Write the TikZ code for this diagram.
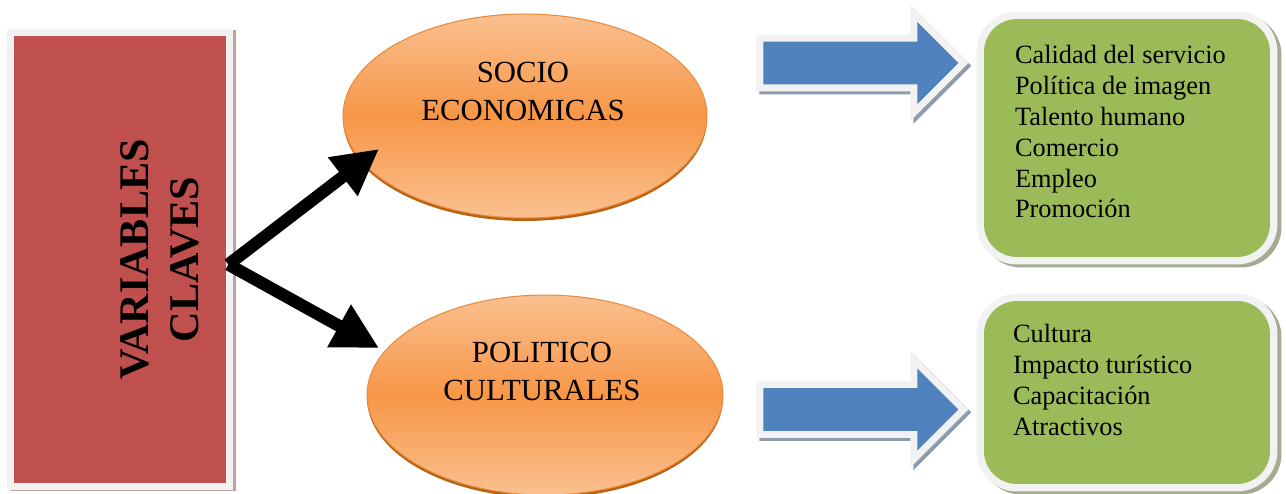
\documentclass[tikz,border=0pt]{standalone}
\usepackage{fontspec}
\setmainfont{Liberation Serif}
\usetikzlibrary{arrows.meta, shapes.geometric, shapes.arrows}

\definecolor{varred}{HTML}{C0504D}
\definecolor{redshade}{HTML}{BFA3A3}
\definecolor{rim}{HTML}{F2F2F2}
\definecolor{ovalmid}{HTML}{F79646}
\definecolor{ovallight}{HTML}{FAC090}
\definecolor{ovaledge}{HTML}{E98A3C}
\definecolor{ovalshade}{HTML}{B8620F}
\definecolor{flowblue}{HTML}{4F81BD}
\definecolor{blueshade}{HTML}{8E9BAE}
\definecolor{listgreen}{HTML}{9BBB59}
\definecolor{greenshade}{HTML}{A3AB92}

\begin{document}
\begin{tikzpicture}
  [x=0.02cm, y=-0.02cm,
   varbox/.style={rectangle, inner sep=0pt, fill=varred, minimum width=4.24cm, minimum height=8.94cm,
     preaction={draw=redshade, line width=8pt, transform canvas={xshift=1.7pt, yshift=-0.6pt}},
     preaction={draw=rim, line width=8pt}},
   oval/.style={ellipse, inner sep=0pt, draw=ovaledge, line width=0.6pt,
     top color=ovallight, bottom color=ovallight, middle color=ovalmid,
     preaction={fill=ovalshade, transform canvas={yshift=-1.7pt}}},
   caption/.style={align=center, inner sep=0pt, font=\fontsize{17.5}{21.6}\selectfont},
   fork/.style={line width=7pt, -{Triangle[length=26pt, width=26pt]}},
   flow/.style={single arrow, inner sep=0pt, fill=flowblue, minimum height=3.9cm,
     text height=0.84cm, text depth=0pt, single arrow head extend=0.39cm, shape border rotate=0,
     preaction={draw=blueshade, line width=8pt, transform canvas={xshift=1.7pt, yshift=-1.7pt}},
     preaction={draw=rim, line width=8pt}},
   listbox/.style={rectangle, rounded corners=0.66cm, inner sep=0pt, fill=listgreen, minimum width=5.72cm,
     preaction={draw=greenshade, line width=8.5pt, transform canvas={xshift=2.3pt, yshift=-1.7pt}},
     preaction={draw=rim, line width=8.5pt}},
   items/.style={align=left, inner sep=0pt, anchor=north west, font=\fontsize{15}{17.6}\selectfont}]
  \useasboundingbox (0,0) rectangle (1286,494);

  % left block
  \node (vars) [varbox] at (120,259.5) {};
  \node (title) [rotate=90, align=center, inner sep=0pt, font=\fontsize{24}{28.5}\selectfont\bfseries]
    at ([xshift=0.8cm]vars.center) {VARIABLES\\CLAVES};

  % the two groups
  \node (socio) [oval, minimum width=7.28cm, minimum height=4.08cm] at (525,116) {};
  \node (politico) [oval, minimum width=7.12cm, minimum height=4cm] at (545,395) {};
  \node [caption] at ([shift={(-2,-25)}]socio.center) {SOCIO\\ECONOMICAS};
  \node [caption] at ([shift={(-3,-24)}]politico.center) {POLITICO\\CULTURALES};

  \draw [fork] ([shift={(2,5)}]vars.east) -- ([shift={(-146,33)}]socio.center);
  \draw [fork] ([shift={(2,5)}]vars.east) -- ([shift={(-166,-47)}]politico.center);

  % block arrows
  \node (flowtop) [flow, anchor=tail] at (763,63) {};
  \node (flowbot) [flow, anchor=tail] at (763,409.5) {};

  % lists
  \node (listtop) [listbox, minimum height=4.76cm] at (1127,138) {};
  \node (listbot) [listbox, minimum height=3.66cm] at (1127,392.5) {};
  \node (itemstop) [items] at ([shift={(31,26)}]listtop.north west)
    {Calidad del servicio\\Política de imagen\\Talento humano\\Comercio\\Empleo\\Promoción};
  \node (itemsbot) [items] at ([shift={(29,23)}]listbot.north west)
    {Cultura\\Impacto turístico\\Capacitación\\Atractivos};
\end{tikzpicture}
\end{document}
